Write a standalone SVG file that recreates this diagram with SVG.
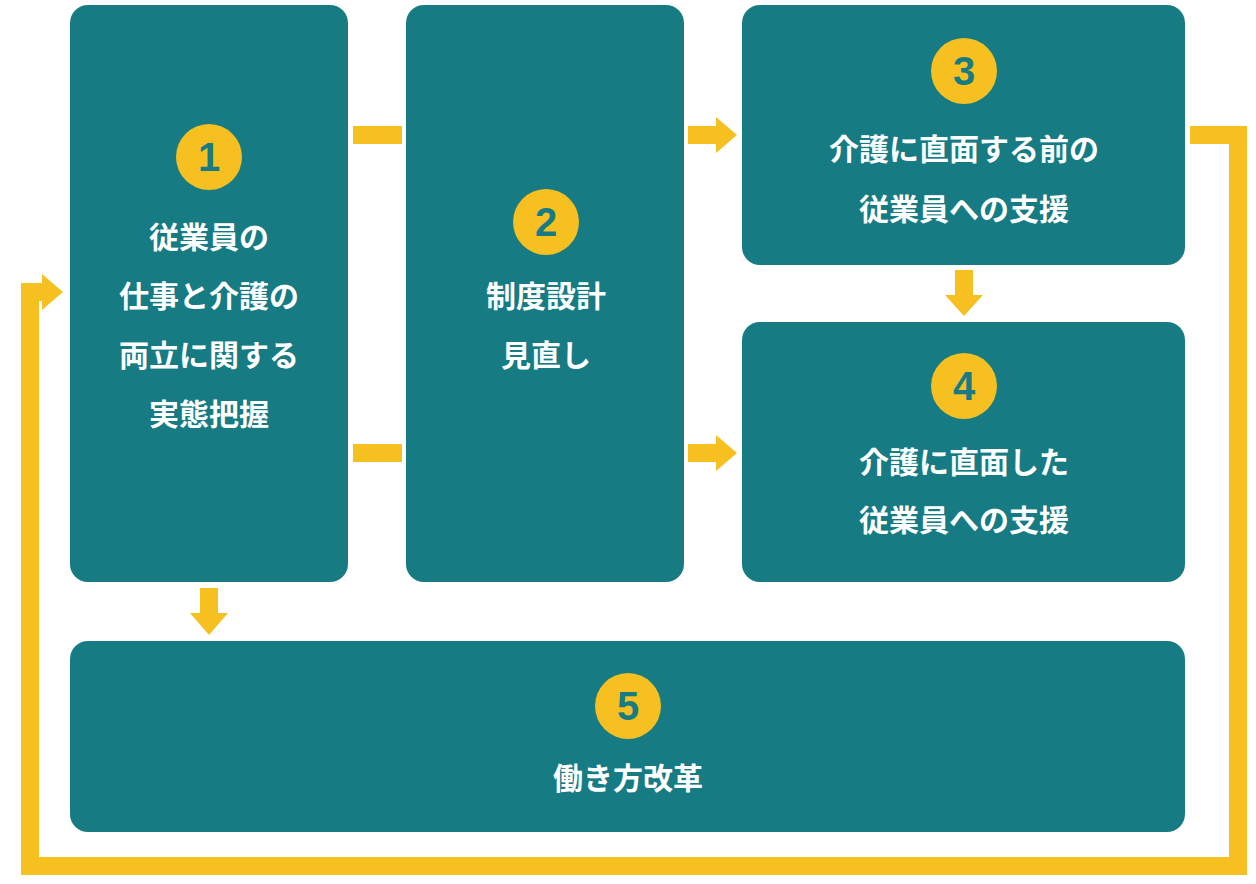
<svg xmlns="http://www.w3.org/2000/svg" width="1256" height="884" viewBox="0 0 1256 884">
<style>
.box{fill:#177b83}
.c{fill:#f5c020}
.n{fill:#177b83;font:bold 40px "Liberation Sans","Noto Sans CJK JP",sans-serif;text-anchor:middle}
.t{fill:#fff;font:bold 30px "Noto Sans CJK JP",sans-serif;text-anchor:middle}
.y{fill:#f5c020}
</style>
<rect width="1256" height="884" fill="#fff"/>
<g id="connectors">
<rect class="y" x="353" y="126" width="49" height="18"/>
<rect class="y" x="353" y="444" width="49" height="18"/>
<path class="y" d="M688 126H716V117L737 135L716 153V144H688Z"/>
<path class="y" d="M688 444H716V435L737 453L716 471V462H688Z"/>
<path class="y" d="M955 270H973V295H983L964 316L945 295H955Z"/>
<path class="y" d="M200 588H218V613H228L209 635L190 613H200Z"/>
<polyline points="1190,135 1238,135 1238,866 30,866 30,292 44,292" fill="none" stroke="#f5c020" stroke-width="18"/>
<path class="y" d="M42 274L63 292L42 310Z"/>
</g>
<g id="n1"><rect class="box" x="70" y="5" width="278" height="577" rx="18"/><circle class="c" cx="209" cy="157" r="33"/><text class="n" x="209" y="171">1</text>
<text class="t" x="209" y="248">従業員の</text><text class="t" x="209" y="307">仕事と介護の</text><text class="t" x="209" y="366">両立に関する</text><text class="t" x="209" y="425">実態把握</text></g>
<g id="n2"><rect class="box" x="406" y="5" width="278" height="577" rx="18"/><circle class="c" cx="546" cy="222" r="33"/><text class="n" x="546" y="236">2</text>
<text class="t" x="546" y="307">制度設計</text><text class="t" x="546" y="366">見直し</text></g>
<g id="n3"><rect class="box" x="742" y="5" width="443" height="260" rx="18"/><circle class="c" cx="964" cy="71" r="33"/><text class="n" x="964" y="85">3</text>
<text class="t" x="964" y="160">介護に直面する前の</text><text class="t" x="964" y="220">従業員への支援</text></g>
<g id="n4"><rect class="box" x="742" y="322" width="443" height="260" rx="18"/><circle class="c" cx="964" cy="386" r="33"/><text class="n" x="964" y="400">4</text>
<text class="t" x="964" y="473">介護に直面した</text><text class="t" x="964" y="531">従業員への支援</text></g>
<g id="n5"><rect class="box" x="70" y="641" width="1115" height="191" rx="18"/><circle class="c" cx="628" cy="706" r="33"/><text class="n" x="628" y="720">5</text>
<text class="t" x="628" y="789">働き方改革</text></g>
</svg>
